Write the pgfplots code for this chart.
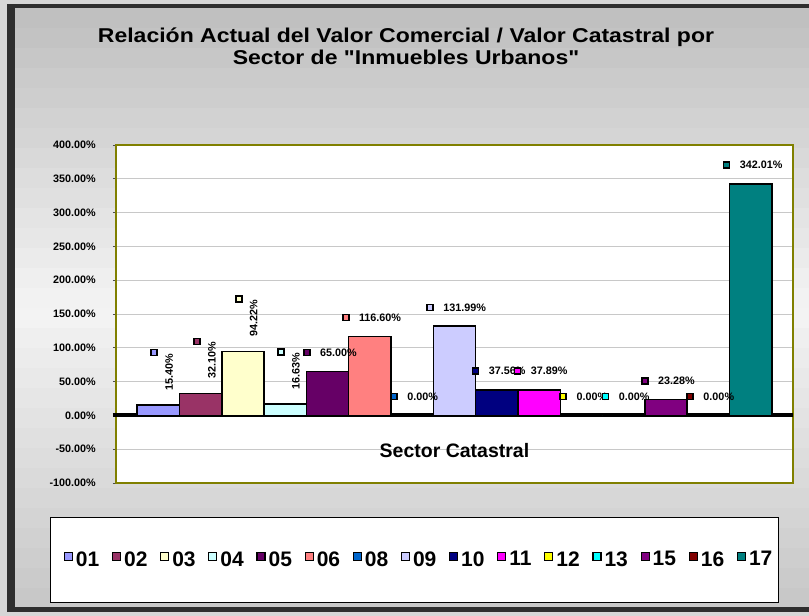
\documentclass[border=0pt]{standalone}
\usepackage{fontspec}
\setmainfont{Liberation Sans}
\newfontfamily\titlefont[FakeStretch=1.15]{Liberation Sans}
\usepackage{pgfplots}
\pgfplotsset{compat=1.18}

\definecolor{c01}{HTML}{9999FF}
\definecolor{c02}{HTML}{993366}
\definecolor{c03}{HTML}{FFFFCC}
\definecolor{c04}{HTML}{CCFFFF}
\definecolor{c05}{HTML}{660066}
\definecolor{c06}{HTML}{FF8080}
\definecolor{c08}{HTML}{0066CC}
\definecolor{c09}{HTML}{CCCCFF}
\definecolor{c10}{HTML}{000080}
\definecolor{c11}{HTML}{FF00FF}
\definecolor{c12}{HTML}{FFFF00}
\definecolor{c13}{HTML}{00FFFF}
\definecolor{c15}{HTML}{800080}
\definecolor{c16}{HTML}{800000}
\definecolor{c17}{HTML}{008080}
\definecolor{outerc}{HTML}{D6D6D6}
\definecolor{framec}{HTML}{2E2E2E}
\definecolor{olivec}{HTML}{808000}
\definecolor{gridc}{HTML}{C8C8C8}

\newcommand{\lblfont}{\bfseries\fontsize{10.8}{12}\selectfont}

\pgfplotsset{
  sqlegend/.style={legend image code/.code={\draw[##1, line width=1.2pt] (0pt,-1pt) rectangle (8pt,7pt);}},
  mybar/.style={ybar, bar width=1, bar shift=0pt, draw=black, line width=1.5pt, sqlegend},
  lab/.style={only marks, mark=square*, mark size=3pt,
    mark options={draw=black, fill=#1, line width=1.6pt}, forget plot,
    every node near coord/.append style={font=\lblfont, inner sep=0pt, text=black}},
  hl/.style={every node near coord/.append style={anchor=west, xshift=12.5pt}},
  vl/.style={every node near coord/.append style={xshift=15pt, rotate=90, anchor=east}},
}

\begin{document}
\begin{tikzpicture}
\fill[outerc] (0pt,0pt) rectangle (809pt,-616pt);
\fill[framec] (7pt,-4pt) rectangle (809pt,-612pt);
% chart area background: light grey bands, lighter in the middle
\begin{scope}[x=1pt, y=1pt]
\foreach \a/\b/\g in {8/29/192, 28/49/195, 48/69/199, 68/89/203, 88/109/206,
    108/129/210, 128/149/213, 148/169/217, 168/189/221, 188/209/224,
    208/229/228, 228/249/231, 248/269/235, 268/289/239, 288/309/242,
    308/329/243, 328/349/239, 348/369/236, 368/389/233, 388/409/230,
    408/429/227, 428/449/224, 448/469/221, 468/489/218, 488/509/215,
    508/529/212, 528/549/209, 548/569/206, 568/589/203, 588/607/200} {
  \definecolor{bandc}{RGB}{\g,\g,\g}
  \fill[bandc] (15,-\a) rectangle (809,-\b);
}
\end{scope}
\fill[framec] (7pt,-607pt) rectangle (809pt,-612pt);
\filldraw[fill=white, draw=black, line width=1pt] (50pt,-517pt) rectangle (778pt,-602pt);
\node[font=\titlefont\bfseries\fontsize{20}{22}\selectfont, align=center] at (406pt,-46pt)
  {Relación Actual del Valor Comercial / Valor Catastral por\\Sector de "Inmuebles Urbanos"};

\begin{axis}[
  at={(116pt,-483pt)}, anchor=south west,
  scale only axis, width=677pt, height=338pt,
  xmin=-1, xmax=15, ymin=-100, ymax=400,
  clip=false,
  axis background/.style={fill=white},
  axis line style={draw=olivec, line width=1.8pt},
  xtick=\empty,
  ytick={-100,-50,...,400},
  ytick align=outside, ytick pos=left,
  major tick length=3pt,
  tick style={draw=black!70, line width=0.8pt},
  ymajorgrids, grid style={draw=gridc, line width=0.8pt},
  extra y ticks={0}, extra y tick labels={},
  extra y tick style={grid style={draw=black, line width=4pt}, tick style={draw=black, line width=4pt}},
  yticklabel={\pgfmathprintnumber[fixed, fixed zerofill, precision=2, assume math mode=true]{\tick}\%},
  yticklabel style={font=\lblfont, anchor=east, inner sep=0pt, xshift=-17pt},
  xlabel={Sector Catastral},
  xlabel style={at={(axis description cs:0.5,0.095)}, anchor=center, font=\bfseries\fontsize{19.5}{22}\selectfont},
  legend columns=15,
  legend style={at={(axis description cs:0.4462,-0.2263)}, anchor=center, draw=none, fill=none,
    font=\bfseries\fontsize{21}{24}\selectfont, nodes={inner sep=0pt},
    /tikz/every odd column/.append style={column sep=3pt},
    /tikz/every even column/.append style={column sep=12.6pt}},
]
\addplot[mybar, fill=c01] coordinates {(0,15.40)};
\addplot[mybar, fill=c02] coordinates {(1,32.10)};
\addplot[mybar, fill=c03] coordinates {(2,94.22)};
\addplot[mybar, fill=c04] coordinates {(3,16.63)};
\addplot[mybar, fill=c05] coordinates {(4,65.00)};
\addplot[mybar, fill=c06] coordinates {(5,116.60)};
\addplot[mybar, fill=c08] coordinates {(6,0.00)};
\addplot[mybar, fill=c09] coordinates {(7,131.99)};
\addplot[mybar, fill=c10] coordinates {(8,37.56)};
\addplot[mybar, fill=c11] coordinates {(9,37.89)};
\addplot[mybar, fill=c12] coordinates {(10,0.00)};
\addplot[mybar, fill=c13] coordinates {(11,0.00)};
\addplot[mybar, fill=c15] coordinates {(12,23.28)};
\addplot[mybar, fill=c16] coordinates {(13,0.00)};
\addplot[mybar, fill=c17] coordinates {(14,342.01)};
\legend{01,02,03,04,05,06,08,09,10,11,12,13,15,16,17}

% data labels (legend key + value)
\addplot[lab=c01, vl, nodes near coords={15.40\%}] coordinates {(-0.10,92.8)};
\addplot[lab=c02, vl, nodes near coords={32.10\%}] coordinates {(0.91,109.6)};
\addplot[lab=c03, vl, nodes near coords={94.22\%}] coordinates {(1.90,172.2)};
\addplot[lab=c04, vl, nodes near coords={16.63\%}] coordinates {(2.90,94.2)};
\addplot[lab=c05, hl, nodes near coords={65.00\%}] coordinates {(3.51,92.8)};
\addplot[lab=c06, hl, nodes near coords={116.60\%}] coordinates {(4.43,145.1)};
\addplot[lab=c08, hl, nodes near coords={0.00\%}] coordinates {(5.57,27.7)};
\addplot[lab=c09, hl, nodes near coords={131.99\%}] coordinates {(6.42,159.9)};
\addplot[lab=c10, hl, nodes near coords={37.56\%}] coordinates {(7.50,66.1)};
\addplot[lab=c11, hl, nodes near coords={37.89\%}] coordinates {(8.49,66.1)};
\addplot[lab=c12, hl, nodes near coords={0.00\%}] coordinates {(9.57,27.7)};
\addplot[lab=c13, hl, nodes near coords={0.00\%}] coordinates {(10.57,27.7)};
\addplot[lab=c15, hl, nodes near coords={23.28\%}] coordinates {(11.50,51.3)};
\addplot[lab=c16, hl, nodes near coords={0.00\%}] coordinates {(12.57,27.7)};
\addplot[lab=c17, hl, nodes near coords={342.01\%}] coordinates {(13.43,370.4)};
\end{axis}
\pgfresetboundingbox
\path (0pt,0pt) rectangle (809pt,-616pt);
\end{tikzpicture}
\end{document}
